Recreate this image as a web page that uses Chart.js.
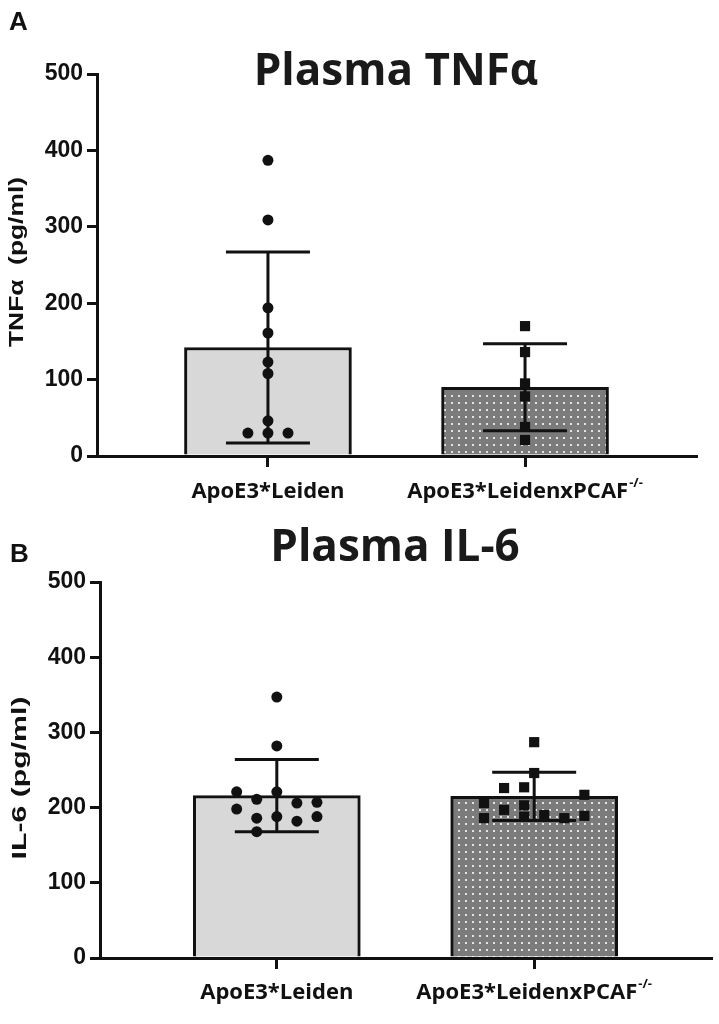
<!DOCTYPE html>
<html>
<head>
<meta charset="utf-8">
<script src="https://cdn.jsdelivr.net/npm/chart.js@4.4.1/dist/chart.umd.min.js"></script>
<style>
  html, body { margin: 0; padding: 0; background: #fff; }
  #wrap { position: relative; width: 719px; height: 1024px; }
  canvas { position: absolute; left: 0; }
  #panelA { top: 0; }
  #panelB { top: 512px; }
</style>
</head>
<body>
<div id="wrap">
  <canvas id="panelA" width="719" height="512"></canvas>
  <canvas id="panelB" width="719" height="512"></canvas>
</div>
<script>
/*--Data--*/
var groups = ['ApoE3*Leiden', 'ApoE3*LeidenxPCAF'];
var groupSup = ['', '-/-'];
var yTicks = [0, 100, 200, 300, 400, 500];

// Plasma TNFa
var tnfMean = [142, 90];
var tnfSD = [125, 57];
var tnfWT = [387, 309, 194, 161, 123, 108, 46, 30, 30, 30];
var tnfWTJitter = [0, 0, 0, 0, 0, 0, 0, -1, 0, 1];
var tnfKO = [170, 136, 95, 78, 38, 21];
var tnfKOJitter = [0, 0, 0, 0, 0, 0];

// Plasma IL-6
var il6Mean = [216, 215];
var il6SD = [48, 32];
var il6WT = [347, 282, 221, 211, 221, 206, 207, 198, 186, 188, 182, 188, 168];
var il6WTJitter = [0, 0, -2, -1, 0, 1, 2, -2, -1, 0, 1, 2, -1];
var il6KO = [287, 246, 226, 227, 217, 206, 186, 197, 203, 188, 190, 186, 189];
var il6KOJitter = [0, 0, -3, -1, 5, -5, -5, -3, -1, -1, 1, 3, 5];
/*--------*/

var INK = '#111';

function dotPattern(ctx) {
  var tile = document.createElement('canvas');
  tile.width = 7; tile.height = 7;
  var t = tile.getContext('2d');
  t.fillStyle = '#7b7b7b';
  t.fillRect(0, 0, 7, 7);
  t.fillStyle = '#e4e4e4';
  t.fillRect(3, 3, 2, 2);
  return ctx.createPattern(tile, 'repeat');
}

function makePanel(id, p) {
  var canvas = document.getElementById(id);
  var ctx = canvas.getContext('2d');

  var extras = {
    id: 'extras_' + id,
    afterDatasetDraw: function(chart, args) {
      if (args.index !== 2) return;           // error bars right after the bars
      var xs = chart.scales.x, ys = chart.scales.y, c = chart.ctx;
      c.save();
      c.strokeStyle = INK;
      c.lineWidth = 3;
      p.mean.forEach(function(m, i) {
        var x = xs.getPixelForValue(i);
        var top = ys.getPixelForValue(m + p.sd[i]);
        var bot = ys.getPixelForValue(m - p.sd[i]);
        c.beginPath();
        c.moveTo(x, top); c.lineTo(x, bot);
        c.moveTo(x - 42, top); c.lineTo(x + 42, top);
        c.moveTo(x - 42, bot); c.lineTo(x + 42, bot);
        c.stroke();
      });
      c.restore();
    },
    afterDraw: function(chart) {
      var c = chart.ctx, xs = chart.scales.x;
      c.save();
      c.fillStyle = INK;
      // panel letter
      c.font = 'bold 26px "Liberation Sans"';
      c.textAlign = 'left';
      c.textBaseline = 'alphabetic';
      c.fillText(p.letter, p.letterX, p.letterY);
      // title
      c.font = 'bold 44px "Open Sans"';
      c.textAlign = 'center';
      c.fillStyle = '#1a1a1a';
      c.fillText(p.title, p.titleX, p.titleY);
      // y title (stretched along its length)
      c.fillStyle = INK;
      c.save();
      c.translate(p.yTitleX, p.yTitleY);
      c.rotate(-Math.PI / 2);
      c.font = 'bold 21px "Liberation Sans"';
      var w = c.measureText(p.yTitle).width;
      c.scale(p.yTitleLen / w, 1);
      c.textAlign = 'center';
      c.textBaseline = 'middle';
      c.fillText(p.yTitle, 0, 0);
      c.restore();
      // category labels
      groups.forEach(function(g, i) {
        var cx = xs.getPixelForValue(i);
        c.font = 'bold 22px "Open Sans"';
        var wm = c.measureText(g).width;
        c.font = 'bold 13px "Open Sans"';
        var wsup = groupSup[i] ? c.measureText(groupSup[i]).width + 1 : 0;
        var x0 = cx - (wm + wsup) / 2;
        c.textAlign = 'left';
        c.font = 'bold 22px "Open Sans"';
        c.fillText(g, x0, p.labelY);
        if (groupSup[i]) {
          c.font = 'bold 13px "Open Sans"';
          c.fillText(groupSup[i], x0 + wm + 1, p.labelY - 11);
        }
      });
      c.restore();
    }
  };

  function pts(vals, jit, gi, step) {
    return vals.map(function(v, k) { return { x: gi + jit[k] * step, y: v }; });
  }

  return new Chart(canvas, {
    type: 'bar',
    data: {
      datasets: [
        {
          type: 'scatter',
          data: pts(p.wt, p.wtJit, 0, p.wtStep),
          pointStyle: 'circle',
          pointRadius: 5.5,
          pointBackgroundColor: INK,
          pointBorderWidth: 0,
          order: 1
        },
        {
          type: 'scatter',
          data: pts(p.ko, p.koJit, 1, p.koStep),
          pointStyle: 'rect',
          pointRadius: 7.2,
          pointBackgroundColor: INK,
          pointBorderWidth: 0,
          order: 2
        },
        {
          type: 'bar',
          data: p.mean.map(function(m, i) { return { x: i, y: m }; }),
          backgroundColor: ['#d8d8d8', dotPattern(ctx)],
          borderColor: INK,
          borderWidth: 3,
          borderSkipped: 'bottom',
          barThickness: 167,
          order: 3
        }
      ]
    },
    options: {
      responsive: false,
      animation: false,
      events: [],
      layout: { padding: { top: p.top, right: p.right, bottom: 0, left: 0 } },
      plugins: { legend: { display: false }, tooltip: { enabled: false }, title: { display: false } },
      scales: {
        x: {
          type: 'linear',
          min: p.xMin,
          max: p.xMax,
          offset: false,
          afterBuildTicks: function(s) { s.ticks = groups.map(function(g, i) { return { value: i }; }); },
          afterFit: function(s) { s.height = p.xAxisH; },
          ticks: { display: false },
          grid: { display: true, offset: false, drawOnChartArea: false, drawTicks: true, tickLength: 11, lineWidth: 3, color: INK },
          border: { display: true, width: 3, color: INK }
        },
        y: {
          min: 0,
          max: 500,
          afterBuildTicks: function(s) { s.ticks = yTicks.map(function(v) { return { value: v }; }); },
          afterFit: function(s) { s.width = p.yAxisW; },
          ticks: { color: INK, padding: 4, font: { family: 'Liberation Sans', weight: 'bold', size: 23 } },
          grid: { display: true, drawOnChartArea: false, drawTicks: true, tickLength: 10, lineWidth: 3, color: INK },
          border: { display: true, width: 3, color: INK }
        }
      }
    },
    plugins: [extras]
  });
}

makePanel('panelA', {
  letter: 'A', letterX: 9, letterY: 30,
  title: 'Plasma TNF\u03b1', titleX: 396, titleY: 85,
  yTitle: 'TNF\u03b1  (pg/ml)', yTitleX: 17, yTitleY: 262, yTitleLen: 170,
  mean: tnfMean, sd: tnfSD,
  wt: tnfWT, wtJit: tnfWTJitter, wtStep: 0.078,
  ko: tnfKO, koJit: tnfKOJitter, koStep: 0.078,
  top: 74, right: 23, yAxisW: 97, xAxisH: 56,
  xMin: -0.665, xMax: 1.665,
  labelY: 498
});

makePanel('panelB', {
  letter: 'B', letterX: 10, letterY: 50,
  title: 'Plasma IL-6', titleX: 395, titleY: 49,
  yTitle: 'IL-6 (pg/ml)', yTitleX: 20, yTitleY: 266, yTitleLen: 163,
  mean: il6Mean, sd: il6SD,
  wt: il6WT, wtJit: il6WTJitter, wtStep: 0.078,
  ko: il6KO, koJit: il6KOJitter, koStep: 0.039,
  top: 70, right: 8, yAxisW: 100, xAxisH: 66,
  xMin: -0.687, xMax: 1.687,
  labelY: 487
});
</script>
</body>
</html>
